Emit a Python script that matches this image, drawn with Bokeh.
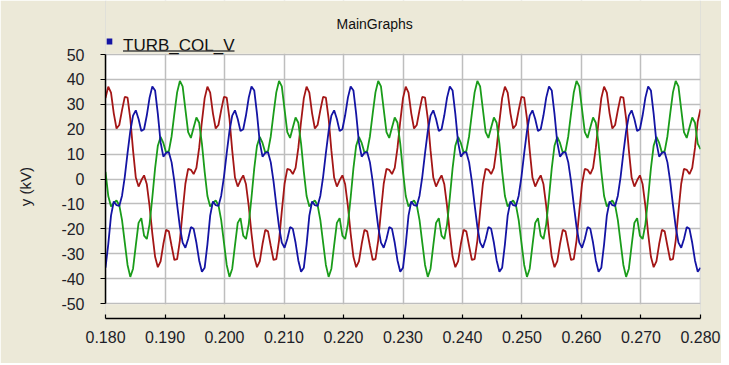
import numpy as np
from bokeh.plotting import figure
from bokeh.models import Range1d, FixedTicker, PrintfTickFormatter, BoxAnnotation, Label
from bokeh.embed import file_html
from bokeh.resources import INLINE

# ---- data (kV) ----
t_start, t_end = 0.180, 0.280
n_samples = 217
time = np.linspace(t_start, t_end, n_samples)

blue = [
    -35.6, -26.2, -14.7, -9.0, -10.5, -10.8, -6.7, 0.9, 10.4, 19.2, 25.5, 27.6, 24.1, 19.3, 20.0, 25.6, 32.7, 37.2,
    35.6, 26.2, 14.7, 9.0, 10.5, 10.8, 6.7, -0.9, -10.4, -19.2, -25.5, -27.6, -24.1, -19.3, -20.0, -25.6, -32.7, -37.2,
    -35.6, -26.2, -14.7, -9.0, -10.5, -10.8, -6.7, 0.9, 10.4, 19.2, 25.5, 27.6, 24.1, 19.3, 20.0, 25.6, 32.7, 37.2,
    35.6, 26.2, 14.7, 9.0, 10.5, 10.8, 6.7, -0.9, -10.4, -19.2, -25.5, -27.6, -24.1, -19.3, -20.0, -25.6, -32.7, -37.2,
    -35.6, -26.2, -14.7, -9.0, -10.5, -10.8, -6.7, 0.9, 10.4, 19.2, 25.5, 27.6, 24.1, 19.3, 20.0, 25.6, 32.7, 37.2,
    35.6, 26.2, 14.7, 9.0, 10.5, 10.8, 6.7, -0.9, -10.4, -19.2, -25.5, -27.6, -24.1, -19.3, -20.0, -25.6, -32.7, -37.2,
    -35.6, -26.2, -14.7, -9.0, -10.5, -10.8, -6.7, 0.9, 10.4, 19.2, 25.5, 27.6, 24.1, 19.3, 20.0, 25.6, 32.7, 37.2,
    35.6, 26.2, 14.7, 9.0, 10.5, 10.8, 6.7, -0.9, -10.4, -19.2, -25.5, -27.6, -24.1, -19.3, -20.0, -25.6, -32.7, -37.2,
    -35.6, -26.2, -14.7, -9.0, -10.5, -10.8, -6.7, 0.9, 10.4, 19.2, 25.5, 27.6, 24.1, 19.3, 20.0, 25.6, 32.7, 37.2,
    35.6, 26.2, 14.7, 9.0, 10.5, 10.8, 6.7, -0.9, -10.4, -19.2, -25.5, -27.6, -24.1, -19.3, -20.0, -25.6, -32.7, -37.2,
    -35.6, -26.2, -14.7, -9.0, -10.5, -10.8, -6.7, 0.9, 10.4, 19.2, 25.5, 27.6, 24.1, 19.3, 20.0, 25.6, 32.7, 37.2,
    35.6, 26.2, 14.7, 9.0, 10.5, 10.8, 6.7, -0.9, -10.4, -19.2, -25.5, -27.6, -24.1, -19.3, -20.0, -25.6, -32.7, -37.2,
    -35.6,
]

red = [
    32.5, 37.1, 34.7, 26.4, 20.3, 21.7, 27.7, 33.0, 32.7, 24.3, 11.5, 0.6, -3.0, -0.5, 1.5, -2.1, -10.9, -21.9,
    -31.2, -35.4, -33.1, -26.1, -20.4, -21.0, -26.9, -32.5, -32.2, -24.7, -13.0, -1.9, 4.1, 3.7, 2.0, 4.5, 12.5, 23.1,
    32.5, 37.1, 34.7, 26.4, 20.3, 21.7, 27.7, 33.0, 32.7, 24.3, 11.5, 0.6, -3.0, -0.5, 1.5, -2.1, -10.9, -21.9,
    -31.2, -35.4, -33.1, -26.1, -20.4, -21.0, -26.9, -32.5, -32.2, -24.7, -13.0, -1.9, 4.1, 3.7, 2.0, 4.5, 12.5, 23.1,
    32.5, 37.1, 34.7, 26.4, 20.3, 21.7, 27.7, 33.0, 32.7, 24.3, 11.5, 0.6, -3.0, -0.5, 1.5, -2.1, -10.9, -21.9,
    -31.2, -35.4, -33.1, -26.1, -20.4, -21.0, -26.9, -32.5, -32.2, -24.7, -13.0, -1.9, 4.1, 3.7, 2.0, 4.5, 12.5, 23.1,
    32.5, 37.1, 34.7, 26.4, 20.3, 21.7, 27.7, 33.0, 32.7, 24.3, 11.5, 0.6, -3.0, -0.5, 1.5, -2.1, -10.9, -21.9,
    -31.2, -35.4, -33.1, -26.1, -20.4, -21.0, -26.9, -32.5, -32.2, -24.7, -13.0, -1.9, 4.1, 3.7, 2.0, 4.5, 12.5, 23.1,
    32.5, 37.1, 34.7, 26.4, 20.3, 21.7, 27.7, 33.0, 32.7, 24.3, 11.5, 0.6, -3.0, -0.5, 1.5, -2.1, -10.9, -21.9,
    -31.2, -35.4, -33.1, -26.1, -20.4, -21.0, -26.9, -32.5, -32.2, -24.7, -13.0, -1.9, 4.1, 3.7, 2.0, 4.5, 12.5, 23.1,
    32.5, 37.1, 34.7, 26.4, 20.3, 21.7, 27.7, 33.0, 32.7, 24.3, 11.5, 0.6, -3.0, -0.5, 1.5, -2.1, -10.9, -21.9,
    -31.2, -35.4, -33.1, -26.1, -20.4, -21.0, -26.9, -32.5, -32.2, -24.7, -13.0, -1.9, 4.1, 3.7, 2.0, 4.5, 12.5, 23.1,
    28.0,
]

green = [
    2.9, -6.8, -11.0, -9.6, -8.6, -10.5, -16.5, -25.5, -34.5, -39.3, -36.0, -26.6, -17.6, -15.7, -22.7, -24.1, -18.1, -7.4,
    4.3, 13.4, 16.9, 14.5, 10.7, 11.2, 17.2, 26.3, 34.8, 39.4, 37.2, 28.0, 18.8, 16.5, 20.7, 24.7, 22.6, 14.2,
    2.9, -6.8, -11.0, -9.6, -8.6, -10.5, -16.5, -25.5, -34.5, -39.3, -36.0, -26.6, -17.6, -15.7, -22.7, -24.1, -18.1, -7.4,
    4.3, 13.4, 16.9, 14.5, 10.7, 11.2, 17.2, 26.3, 34.8, 39.4, 37.2, 28.0, 18.8, 16.5, 20.7, 24.7, 22.6, 14.2,
    2.9, -6.8, -11.0, -9.6, -8.6, -10.5, -16.5, -25.5, -34.5, -39.3, -36.0, -26.6, -17.6, -15.7, -22.7, -24.1, -18.1, -7.4,
    4.3, 13.4, 16.9, 14.5, 10.7, 11.2, 17.2, 26.3, 34.8, 39.4, 37.2, 28.0, 18.8, 16.5, 20.7, 24.7, 22.6, 14.2,
    2.9, -6.8, -11.0, -9.6, -8.6, -10.5, -16.5, -25.5, -34.5, -39.3, -36.0, -26.6, -17.6, -15.7, -22.7, -24.1, -18.1, -7.4,
    4.3, 13.4, 16.9, 14.5, 10.7, 11.2, 17.2, 26.3, 34.8, 39.4, 37.2, 28.0, 18.8, 16.5, 20.7, 24.7, 22.6, 14.2,
    2.9, -6.8, -11.0, -9.6, -8.6, -10.5, -16.5, -25.5, -34.5, -39.3, -36.0, -26.6, -17.6, -15.7, -22.7, -24.1, -18.1, -7.4,
    4.3, 13.4, 16.9, 14.5, 10.7, 11.2, 17.2, 26.3, 34.8, 39.4, 37.2, 28.0, 18.8, 16.5, 20.7, 24.7, 22.6, 14.2,
    2.9, -6.8, -11.0, -9.6, -8.6, -10.5, -16.5, -25.5, -34.5, -39.3, -36.0, -26.6, -17.6, -15.7, -22.7, -24.1, -18.1, -7.4,
    4.3, 13.4, 16.9, 14.5, 10.7, 11.2, 17.2, 26.3, 34.8, 39.4, 37.2, 28.0, 18.8, 16.5, 20.7, 24.7, 22.6, 14.2,
    12.0,
]

x_ticks = [0.180, 0.190, 0.200, 0.210, 0.220, 0.230, 0.240, 0.250, 0.260, 0.270, 0.280]
y_ticks = [-50, -40, -30, -20, -10, 0, 10, 20, 30, 40, 50]

title_text = "MainGraphs"
legend_text = "TURB_COL_V"
y_label = "y (kV)"

# ---- style / layout ----
BG = "#ECE9D8"
FONT = "Liberation Sans"
TXT = "#1e1e28"
C_BLUE = "#1414A4"
C_RED = "#A41616"
C_GREEN = "#1A9C1A"
GRID = "#BEBEBE"

FIG_W, FIG_H = 721, 363
B_LEFT, B_RIGHT, B_TOP, B_BOTTOM = 105, 21, 0, 45
FRAME_W = FIG_W - B_LEFT - B_RIGHT
FRAME_H = FIG_H - B_TOP - B_BOTTOM
Y_BOTTOM, Y_TOP = -56.0, 71.7          # frame extends above/below the plotting area
PX_X = (x_ticks[-1] - x_ticks[0]) / FRAME_W
PX_Y = (Y_TOP - Y_BOTTOM) / FRAME_H
LABEL_PAD = "\u00a0" * 13              # shifts the rotated axis title down, as in the reference

p = figure(width=FIG_W, height=FIG_H, output_backend="svg", toolbar_location=None,
           x_range=Range1d(x_ticks[0] - 1e-6, x_ticks[-1] + 1e-6),
           y_range=Range1d(Y_BOTTOM, Y_TOP),
           min_border_left=B_LEFT, min_border_right=B_RIGHT,
           min_border_top=B_TOP, min_border_bottom=B_BOTTOM)
p.title = None
p.border_fill_color = BG
p.background_fill_color = "white"
p.outline_line_color = None

# axes
p.xaxis.ticker = FixedTicker(ticks=x_ticks)
p.xaxis.formatter = PrintfTickFormatter(format="%.3f")
p.xaxis.major_tick_in = 4
p.xaxis.major_tick_out = 0
p.xaxis.minor_tick_in = 0
p.xaxis.minor_tick_out = 0
p.xaxis.major_label_standoff = 12
p.yaxis.ticker = FixedTicker(ticks=y_ticks)
p.yaxis.formatter = PrintfTickFormatter(format="%d")
p.yaxis.bounds = (y_ticks[0], y_ticks[-1])
p.yaxis.major_tick_in = 0
p.yaxis.major_tick_out = 5
p.yaxis.minor_tick_in = 0
p.yaxis.minor_tick_out = 0
p.yaxis.major_label_standoff = 16
p.yaxis.axis_label = y_label + LABEL_PAD
p.yaxis.axis_label_standoff = 24
p.yaxis.axis_label_text_font_style = "normal"
p.yaxis.axis_label_text_font_size = "15px"
p.yaxis.axis_label_text_font = FONT
p.yaxis.axis_label_text_color = TXT
for ax in (p.xaxis, p.yaxis):
    ax.axis_line_color = "black"
    ax.axis_line_width = 1.5
    ax.major_tick_line_color = "black"
    ax.major_tick_line_width = 1.2
    ax.major_label_text_font = FONT
    ax.major_label_text_font_size = "16px"
    ax.major_label_text_color = TXT

# grid
p.xgrid.ticker = FixedTicker(ticks=x_ticks)
p.ygrid.ticker = FixedTicker(ticks=y_ticks)
for g in (p.xgrid, p.ygrid):
    g.grid_line_color = GRID
    g.grid_line_width = 1.5

# beige areas of the frame outside the white plotting area
p.add_layout(BoxAnnotation(top=y_ticks[0] - 0.3, fill_color=BG, fill_alpha=1.0,
                           line_color=None, level="underlay"))
p.add_layout(BoxAnnotation(bottom=y_ticks[-1] + 0.3, fill_color=BG, fill_alpha=1.0,
                           line_color=None, level="underlay"))

# waveforms
p.line(time, red, line_color=C_RED, line_width=1.8)
p.line(time, green, line_color=C_GREEN, line_width=1.8)
p.line(time, blue, line_color=C_BLUE, line_width=1.8)

# title
p.add_layout(Label(x=x_ticks[0], y=y_ticks[-1], x_offset=231, y_offset=30.5,
                   text=title_text, text_font=FONT, text_font_size="14px",
                   text_color="#111111", text_baseline="alphabetic", text_align="left"))
# legend: blue square, label, underline
x0, y0 = x_ticks[0], y_ticks[-1]
p.add_layout(BoxAnnotation(left=x0 + 1.2 * PX_X, right=x0 + 6.8 * PX_X,
                           bottom=y0 + 10 * PX_Y, top=y0 + 16 * PX_Y,
                           fill_color=C_BLUE, fill_alpha=1.0, line_color=None))
p.add_layout(Label(x=x0, y=y0, x_offset=17.5, y_offset=9.5,
                   text=legend_text, text_font=FONT, text_font_size="17px",
                   text_color="#111111", text_baseline="alphabetic", text_align="left"))
p.add_layout(BoxAnnotation(left=x0 + 17.5 * PX_X, right=x0 + 129 * PX_X,
                           bottom=y0 + 2.8 * PX_Y, top=y0 + 4.3 * PX_Y,
                           fill_color="#444444", fill_alpha=1.0, line_color=None))

open("out.html", "w").write(file_html(p, INLINE))
